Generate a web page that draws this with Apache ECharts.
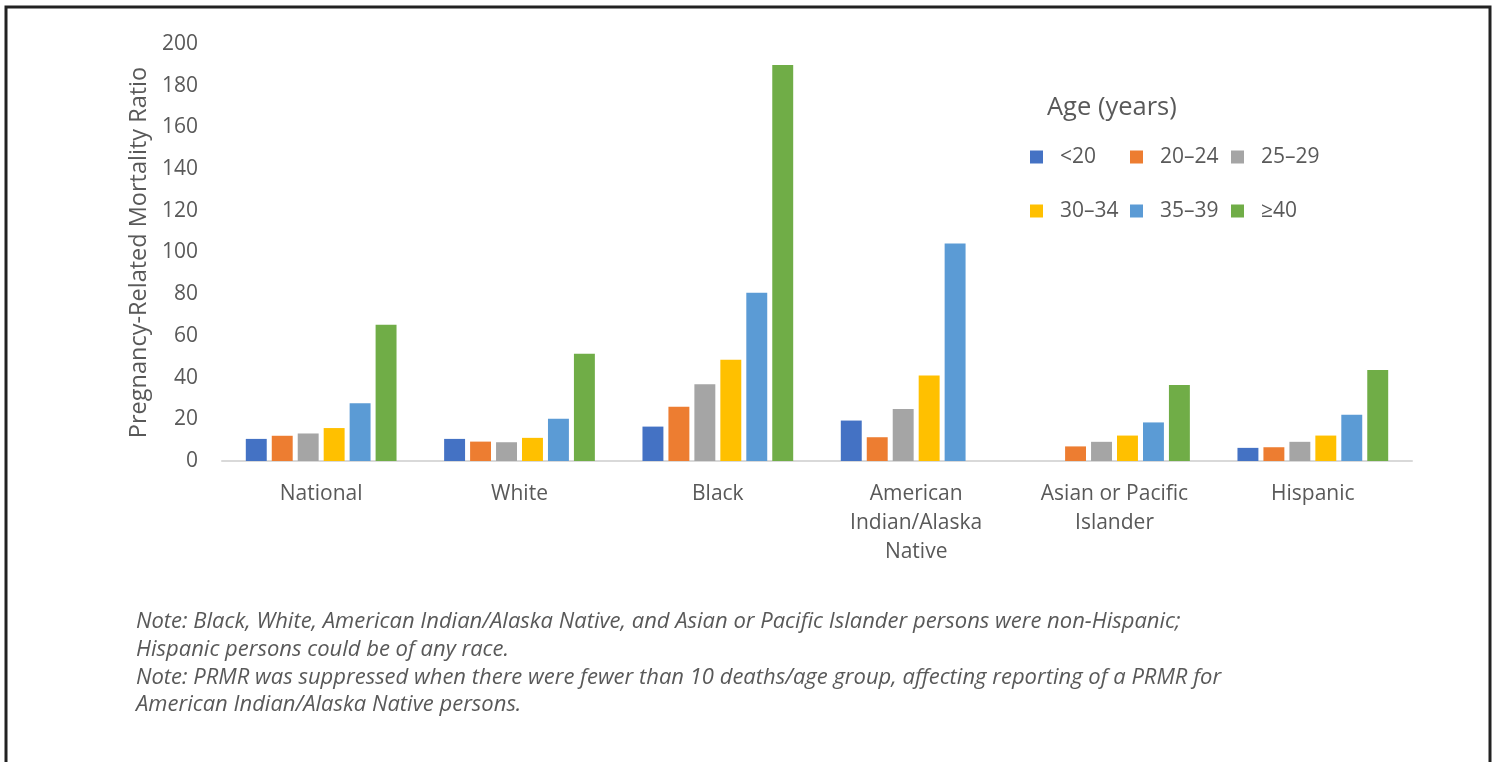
<!DOCTYPE html>
<html>
<head>
<meta charset="utf-8">
<script src="https://cdn.jsdelivr.net/npm/echarts@6/dist/echarts.min.js"></script>
<style>
  html, body { margin: 0; padding: 0; background: #fff; }
  #chart { width: 1497px; height: 762px; }
</style>
</head>
<body>
<div id="chart"></div>
<script>
const groups = ['National', 'White', 'Black', 'American\nIndian/Alaska\nNative', 'Asian or Pacific\nIslander', 'Hispanic'];
const ageGroups = ['<20', '20–24', '25–29', '30–34', '35–39', '≥40'];
const colors = ['#4472c4', '#ed7d31', '#a5a5a5', '#ffc000', '#5b9bd5', '#70ad47'];

// one array per age group, values in the order of groups (null = suppressed)
const under20 = [10.6, 10.6, 16.5, 19.4, null, 6.3];
const age20to24 = [12.1, 9.3, 26.0, 11.4, 7.0, 6.6];
const age25to29 = [13.2, 9.0, 36.8, 25.0, 9.2, 9.2];
const age30to34 = [15.8, 11.1, 48.6, 41.0, 12.2, 12.2];
const age35to39 = [27.7, 20.3, 80.7, 104.3, 18.5, 22.2];
const age40plus = [65.3, 51.4, 189.9, null, 36.4, 43.6];
const seriesValues = [under20, age20to24, age25to29, age30to34, age35to39, age40plus];

const notes = [
  'Note: Black, White, American Indian/Alaska Native, and Asian or Pacific Islander persons were non-Hispanic;',
  'Hispanic persons could be of any race.',
  'Note: PRMR was suppressed when there were fewer than 10 deaths/age group, affecting reporting of a PRMR for',
  'American Indian/Alaska Native persons.'
];

const chart = echarts.init(document.getElementById('chart'));
const font = '"Open Sans"';
const textColor = '#595959';

// legend laid out as a 3 x 2 grid, one legend box per entry
const legendLeft = [1030, 1130, 1231];
const legendTop = [145, 199];
const legends = ageGroups.map((name, i) => ({
  left: legendLeft[i % 3],
  top: legendTop[Math.floor(i / 3)],
  padding: 0,
  itemWidth: 13,
  itemHeight: 13,
  icon: 'rect',
  selectedMode: false,
  data: [name],
  textStyle: {
    fontFamily: font,
    fontSize: 21,
    lineHeight: 24,
    color: textColor,
    padding: [0, 0, 0, 12]
  }
}));

chart.setOption({
  backgroundColor: '#fff',
  animation: false,
  color: colors,
  grid: { left: 222, right: 85, top: 44, bottom: 301 },
  legend: legends,
  xAxis: {
    type: 'category',
    data: groups,
    axisLine: { lineStyle: { color: '#d9d9d9', width: 2 } },
    axisTick: { show: false },
    axisLabel: {
      fontFamily: font,
      fontSize: 21,
      color: textColor,
      margin: 19,
      lineHeight: 29
    }
  },
  yAxis: {
    type: 'value',
    min: 0,
    max: 200,
    interval: 20,
    name: 'Pregnancy-Related Mortality Ratio',
    nameLocation: 'middle',
    nameGap: 70,
    nameTextStyle: { fontFamily: font, fontSize: 23.5, color: textColor },
    axisLine: { show: false },
    axisTick: { show: false },
    splitLine: { show: false },
    axisLabel: { fontFamily: font, fontSize: 21, color: textColor, margin: 24 }
  },
  series: seriesValues.map((vals, i) => ({
    name: ageGroups[i],
    type: 'bar',
    data: vals,
    barGap: '24%',
    barCategoryGap: '24%',
    itemStyle: { color: colors[i] }
  })),
  graphic: [
    {
      type: 'rect',
      shape: { x: 6, y: 7, width: 1484, height: 800 },
      style: { fill: 'none', stroke: '#222', lineWidth: 3 }
    },
    {
      type: 'text',
      left: 1047,
      top: 95,
      style: { text: 'Age (years)', font: '25.5px ' + font, fill: textColor }
    },
    {
      type: 'text',
      left: 136,
      top: 608,
      style: {
        text: notes.join('\n'),
        font: 'italic 22px ' + font,
        lineHeight: 27.7,
        fill: textColor
      }
    }
  ]
});
</script>
</body>
</html>
